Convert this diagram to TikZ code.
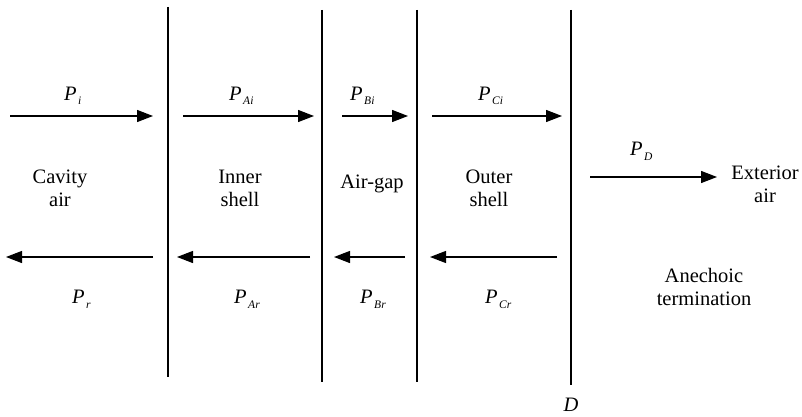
\documentclass[tikz,border=0pt]{standalone}
\usepackage{fontspec}
\setmainfont{Liberation Serif}
\usetikzlibrary{arrows.meta}
\newcommand{\pwave}[1]{\textit{P}\kern1.5pt\raisebox{-5pt}{\fontsize{11.5}{12}\selectfont\textit{#1}}}

\begin{document}
\begin{tikzpicture}[x=1pt, y=-1pt, font=\fontsize{20.5}{23}\selectfont,
    wall/.style={line width=1.3pt},
    wave/.style={line width=1.3pt, -{Triangle[length=16pt, width=12pt]}},
    plabel/.style={anchor=base west, inner sep=0pt},
    zone/.style={align=center, inner sep=0pt}]
  \useasboundingbox (0,0) rectangle (802,417);
  % walls of the cavity
  \coordinate (ina) at (168,7);    \coordinate (inb) at (168,377);
  \coordinate (gapa) at (322,10);  \coordinate (gapb) at (322,382);
  \coordinate (outa) at (417,10);  \coordinate (outb) at (417,382);
  \coordinate (da) at (571,10);    \coordinate (db) at (571,385);
  \draw[wall] (ina) -- (inb);
  \draw[wall] (gapa) -- (gapb);
  \draw[wall] (outa) -- (outb);
  \draw[wall] (da) -- (db);
  \node[anchor=base, inner sep=0pt] (dlab) at (571,411) {\textit{D}};
  % incident waves
  \coordinate (i1) at (10,116);  \coordinate (i2) at (153,116);
  \coordinate (i3) at (183,116); \coordinate (i4) at (314,116);
  \coordinate (i5) at (342,116); \coordinate (i6) at (408,116);
  \coordinate (i7) at (432,116); \coordinate (i8) at (562,116);
  \draw[wave] (i1) -- (i2);
  \draw[wave] (i3) -- (i4);
  \draw[wave] (i5) -- (i6);
  \draw[wave] (i7) -- (i8);
  \node[plabel] (pi) at (64,100) {\pwave{i}};
  \node[plabel] (pai) at (229,100) {\pwave{Ai}};
  \node[plabel] (pbi) at (350,100) {\pwave{Bi}};
  \node[plabel] (pci) at (478,100) {\pwave{Ci}};
  % reflected waves
  \coordinate (r1) at (153,257); \coordinate (r2) at (6,257);
  \coordinate (r3) at (310,257); \coordinate (r4) at (177,257);
  \coordinate (r5) at (405,257); \coordinate (r6) at (334,257);
  \coordinate (r7) at (557,257); \coordinate (r8) at (430,257);
  \draw[wave] (r1) -- (r2);
  \draw[wave] (r3) -- (r4);
  \draw[wave] (r5) -- (r6);
  \draw[wave] (r7) -- (r8);
  \node[plabel] (pr) at (72,303) {\pwave{r}};
  \node[plabel] (par) at (234,303) {\pwave{Ar}};
  \node[plabel] (pbr) at (360,303) {\pwave{Br}};
  \node[plabel] (pcr) at (485,303) {\pwave{Cr}};
  % transmitted wave
  \coordinate (t1) at (590,177); \coordinate (t2) at (717,177);
  \draw[wave] (t1) -- (t2);
  \node[plabel] (pd) at (630,155) {\pwave{D}};
  % regions
  \node[zone] (cav) at (60,188) {Cavity\\air};
  \node[zone] (inner) at (240,188) {Inner\\shell};
  \node[zone, anchor=base] (gap) at (372,188) {Air-gap};
  \node[zone] (outer) at (489,188) {Outer\\shell};
  \node[zone] (ext) at (765,184) {Exterior\\air};
  \node[zone] (anec) at (704,287) {Anechoic\\termination};
\end{tikzpicture}
\end{document}
